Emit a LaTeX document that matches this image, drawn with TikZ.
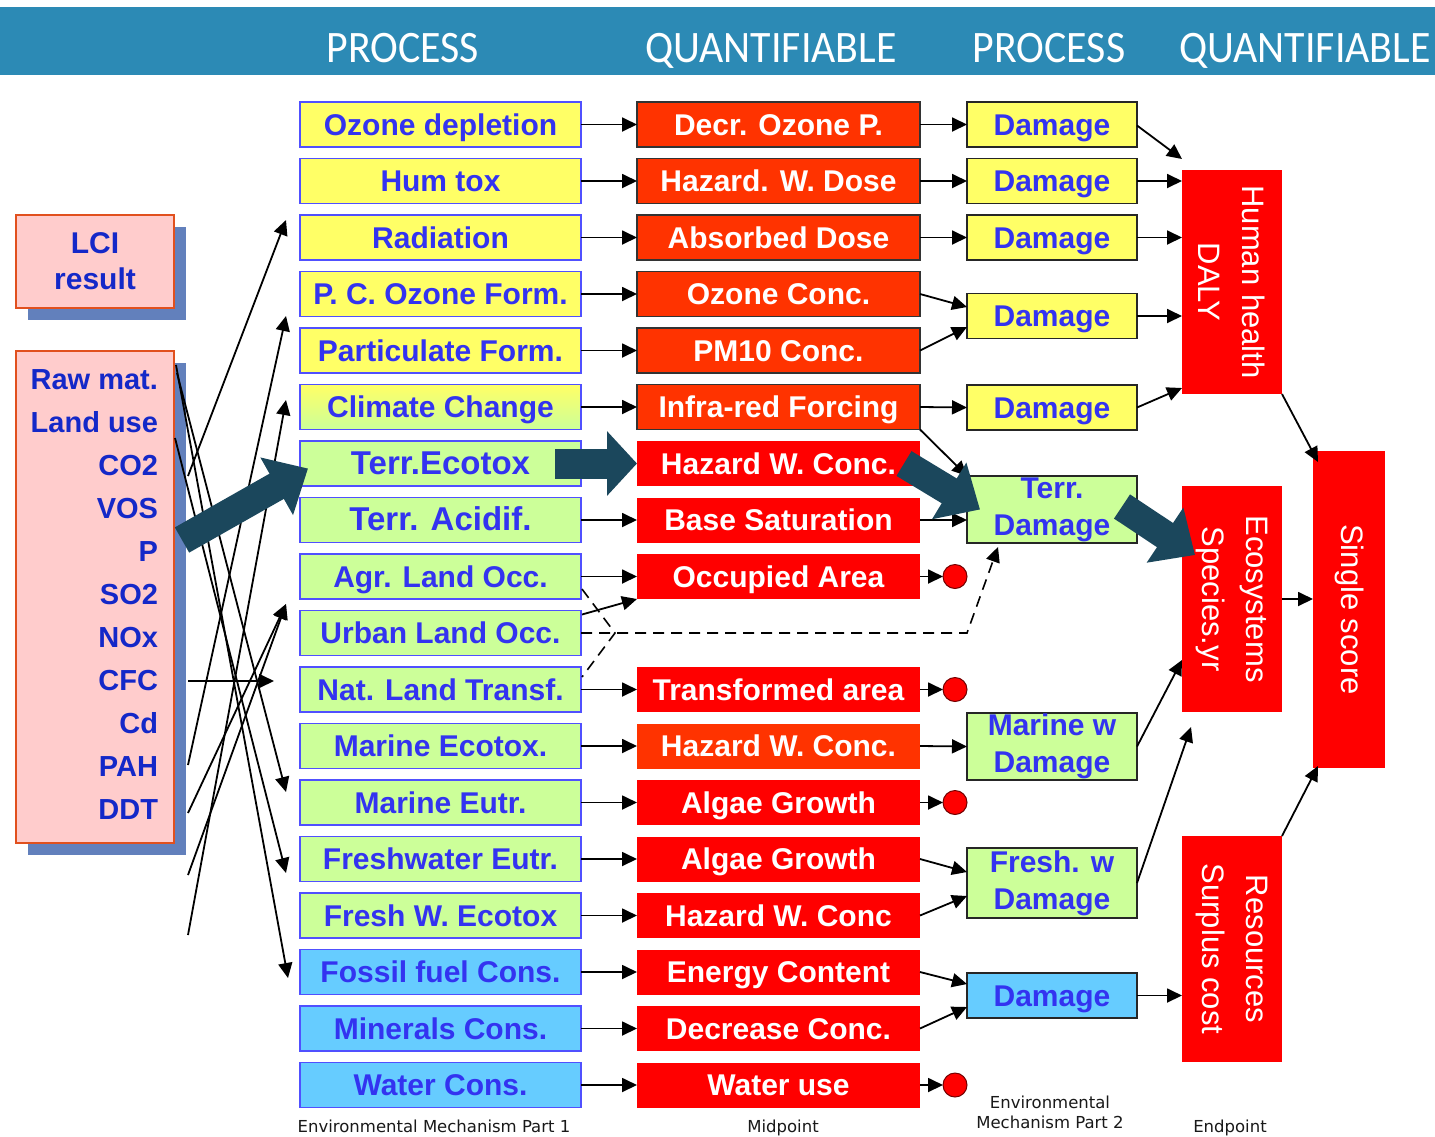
\documentclass[tikz,border=0pt]{standalone}
\usepackage{fontspec}
\setmainfont{Liberation Sans}
\newfontfamily\headfont{Carlito}
\newfontfamily\notefont{DejaVu Sans}
\usetikzlibrary{arrows.meta,calc,shadows}

\definecolor{band}{RGB}{44,138,181}
\definecolor{procyellow}{RGB}{255,255,102}
\definecolor{procgreen}{RGB}{204,255,153}
\definecolor{procblue}{RGB}{102,204,255}
\definecolor{procedge}{RGB}{80,80,255}
\definecolor{midorange}{RGB}{255,51,0}
\definecolor{midred}{RGB}{255,0,0}
\definecolor{txtblue}{RGB}{51,51,240}
\definecolor{lcitxt}{RGB}{20,40,200}
\definecolor{lcifill}{RGB}{255,204,204}
\definecolor{lciedge}{RGB}{225,80,30}
\definecolor{lcishadow}{RGB}{98,128,188}
\definecolor{bigarrowc}{RGB}{27,71,92}

\begin{document}
\begin{tikzpicture}[x=1pt,y=-1pt,
  every node/.style={inner sep=0pt,outer sep=0pt},
  bigfont/.style={font=\fontsize{30}{37}\selectfont\bfseries},
  oneline/.style={text height=21.5pt,text depth=0pt},
  proc/.style={bigfont,oneline,draw=procedge,line width=1.4pt,minimum width=281pt,minimum height=45pt,text=txtblue},
  pY/.style={fill=procyellow},
  pG/.style={fill=procgreen},
  pB/.style={fill=procblue},
  pYG/.style={top color=procyellow,bottom color=procgreen},
  mid/.style={bigfont,oneline,minimum width=283pt,minimum height=45pt,text=white},
  mO/.style={fill=midorange,draw=black!80,line width=1.4pt},
  mR/.style={fill=midred},
  mO2/.style={fill=midorange},
  dmg/.style={bigfont,draw=black!85,line width=1.4pt,minimum width=170pt,minimum height=45pt,text=txtblue,align=center},
  dot/.style={circle,fill=midred,draw=black!55!red,line width=1pt,minimum size=24pt},
  endbox/.style={fill=midred,minimum width=100pt},
  endtext/.style={rotate=-90,text=white,align=center,font=\fontsize{31}{44}\selectfont},
  lcibox/.style={fill=lcifill,draw=lciedge,line width=1.6pt,
    drop shadow={shadow xshift=12pt,shadow yshift=-12pt,fill=lcishadow,opacity=1}},
  tip/.style={-{Triangle[length=15pt,width=14pt]}},
  link/.style={line width=1.8pt,tip},
  bigarrow/.style={draw=bigarrowc,line width=29pt,-{Triangle[length=36pt,width=64pt]}},
  landdash/.style={line width=1.6pt,dash pattern=on 11pt off 7pt},
  note/.style={font=\notefont\fontsize{16.5}{20}\selectfont,text=black!90,align=center},
  head/.style={text=white,font=\headfont\fontsize{45}{45}\selectfont}
]
\useasboundingbox (0,0) rectangle (1435,1136);
\fill[white] (0,0) rectangle (1435,1136);

% header band
\fill[band] (0,7) rectangle (1435,75);
\node[head,anchor=base] (h1) at (403,62) {\scalebox{0.93}[1]{PROCESS}};
\node[head,anchor=base] (h2) at (771,62) {\scalebox{0.93}[1]{QUANTIFIABLE}};
\node[head,anchor=base] (h3) at (1049,62) {\scalebox{0.93}[1]{PROCESS}};
\node[head,anchor=base] (h4) at (1305,62) {\scalebox{0.93}[1]{QUANTIFIABLE}};

% inventory result
\node[lcibox,minimum width=158pt,minimum height=93pt,align=center,text=lcitxt,
  font=\fontsize{30}{36}\selectfont\bfseries] (lci) at (95,261.5) {LCI\\result};
\node[lcibox,minimum width=158pt,minimum height=492pt] (inv) at (95,597) {};
\node[anchor=north east,align=right,text=lcitxt,font=\fontsize{29}{43}\selectfont\bfseries]
  (invlist) at (158,370) {Raw mat.\\Land use\\CO2\\VOS\\P\\SO2\\NOx\\CFC\\Cd\\PAH\\DDT};

% environmental mechanism part 1
\node[proc,pY]  (p0)  at (440.5,124.5)  {Ozone depletion};
\node[proc,pY]  (p1)  at (440.5,181)    {Hum tox};
\node[proc,pY]  (p2)  at (440.5,237.5)  {Radiation};
\node[proc,pY]  (p3)  at (440.5,294)    {P. C. Ozone Form.};
\node[proc,pY]  (p4)  at (440.5,350.5)  {Particulate Form.};
\node[proc,pYG] (p5)  at (440.5,407)    {Climate Change};
\node[proc,pG,font=\fontsize{33}{37}\selectfont\bfseries] (p6) at (440.5,463.5) {Terr.Ecotox};
\node[proc,pG,font=\fontsize{33}{37}\selectfont\bfseries] (p7) at (440.5,520) {Terr. Acidif.};
\node[proc,pG]  (p8)  at (440.5,576.5)  {Agr. Land Occ.};
\node[proc,pG]  (p9)  at (440.5,633)    {Urban Land Occ.};
\node[proc,pG]  (p10) at (440.5,689.5)  {Nat. Land Transf.};
\node[proc,pG]  (p11) at (440.5,746)    {Marine Ecotox.};
\node[proc,pG]  (p12) at (440.5,802.5)  {Marine Eutr.};
\node[proc,pG]  (p13) at (440.5,859)    {Freshwater Eutr.};
\node[proc,pG]  (p14) at (440.5,915.5)  {Fresh W. Ecotox};
\node[proc,pB]  (p15) at (440.5,972)    {Fossil fuel Cons.};
\node[proc,pB]  (p16) at (440.5,1028.5) {Minerals Cons.};
\node[proc,pB]  (p17) at (440.5,1085)   {Water Cons.};

% midpoints
\node[mid,mO]  (m0)  at (778.5,124.5)  {Decr. Ozone P.};
\node[mid,mO]  (m1)  at (778.5,181)    {Hazard. W. Dose};
\node[mid,mO]  (m2)  at (778.5,237.5)  {Absorbed Dose};
\node[mid,mO]  (m3)  at (778.5,294)    {Ozone Conc.};
\node[mid,mO]  (m4)  at (778.5,350.5)  {PM10 Conc.};
\node[mid,mO]  (m5)  at (778.5,407)    {Infra-red Forcing};
\node[mid,mR]  (m6)  at (778.5,463.5)  {Hazard W. Conc.};
\node[mid,mR]  (m7)  at (778.5,520)    {Base Saturation};
\node[mid,mR]  (m8)  at (778.5,576.5)  {Occupied Area};
\node[mid,mR]  (m10) at (778.5,689.5)  {Transformed area};
\node[mid,mO2] (m11) at (778.5,746)    {Hazard W. Conc.};
\node[mid,mR]  (m12) at (778.5,802.5)  {Algae Growth};
\node[mid,mR]  (m13) at (778.5,859)    {Algae Growth};
\node[mid,mR]  (m14) at (778.5,915.5)  {Hazard W. Conc};
\node[mid,mR]  (m15) at (778.5,972)    {Energy Content};
\node[mid,mR]  (m16) at (778.5,1028.5) {Decrease Conc.};
\node[mid,mR]  (m17) at (778.5,1085)   {Water use};

% environmental mechanism part 2
\node[dmg,pY,oneline] (d0)  at (1052,124.5) {Damage};
\node[dmg,pY,oneline] (d1)  at (1052,181)   {Damage};
\node[dmg,pY,oneline] (d2)  at (1052,237.5) {Damage};
\node[dmg,pY,oneline] (d34) at (1052,316)   {Damage};
\node[dmg,pY,oneline] (d5)  at (1052,407.5) {Damage};
\node[dmg,pG,minimum height=67pt] (dterr)  at (1052,509.5) {Terr.\\Damage};
\node[dmg,pG,minimum height=67pt] (dmar)   at (1052,746.5) {Marine w\\Damage};
\node[dmg,pG,minimum height=70pt] (dfresh) at (1052,883)   {Fresh. w\\Damage};
\node[dmg,pB,oneline] (dres) at (1052,995.5) {Damage};

% dead ends
\node[dot] (o8)  at (955,576.5) {};
\node[dot] (o10) at (955,689.5) {};
\node[dot] (o12) at (955,802.5) {};
\node[dot] (o17) at (955,1085)  {};

% endpoints
\node[endbox,minimum height=224pt] (hh)  at (1232,282) {};
\node[endtext] (hhlab) at (hh) {Human health\\DALY};
\node[endbox,minimum height=226pt] (eco) at (1232,599) {};
\node[endtext] (ecolab) at (eco) {Ecosystems\\Species.yr};
\node[endbox,minimum height=226pt] (res) at (1232,949) {};
\node[endtext] (reslab) at (res) {Resources\\Surplus cost};
\node[endbox,minimum width=72pt,minimum height=317pt] (ss) at (1349,609.5) {};
\node[endtext] (sslab) at (ss) {Single score};

% inventory to mechanism links
\coordinate (sraw1) at (176,365);
\coordinate (sraw2) at (177,373);
\coordinate (sland) at (175,438);
\coordinate (sco2)  at (188,476);
\coordinate (scfc)  at (188,681);
\coordinate (spah)  at (188,765);
\coordinate (sddt)  at (188,813);
\coordinate (sx1)   at (188,875);
\coordinate (sx2)   at (188,935);
\coordinate (erad)  at (286,220);
\coordinate (epart) at (286,316);
\coordinate (eclim) at (286,400);
\coordinate (eurb)  at (286,604);
\coordinate (enat)  at (274,681);
\coordinate (emeu)  at (286,792);
\coordinate (efew)  at (286,873);
\coordinate (efos)  at (288,978);
\draw[link] (sraw1) -- (efos);
\draw[link] (sraw2) -- (emeu);
\draw[link] (sland) -- (efew);
\draw[link] (sco2) -- (erad);
\draw[link] (spah) -- (epart);
\draw[link] (sx2) -- (eclim);
\draw[link] (sddt) -- (eurb);
\draw[link] (sx1) -- (eurb);
\draw[link] (scfc) -- (enat);

% mechanism part 1 to midpoints
\foreach \i in {0,1,2,3,4,5,7,8,10,11,12,13,14,15,16,17}
  \draw[link] (p\i.east) -- (m\i.west);
\draw[link] ($(p9.north east)+(1,4)$) -- (m8.south west);

% land use (dashed)
\coordinate (landjoin) at (615,633);
\coordinate (landbend) at (967,633);
\draw[landdash] ($(p8.south east)+(1,-10)$) -- (landjoin) -- ($(p10.north east)+(1,10)$);
\draw[landdash,tip] (p9.east) -- (landbend) -- ($(dterr.south west)+(31,4)$);

% midpoints to mechanism part 2
\draw[link] (m0.east) -- (d0.west);
\draw[link] (m1.east) -- (d1.west);
\draw[link] (m2.east) -- (d2.west);
\draw[link] (m3.east) -- ($(d34.west)+(0,-9)$);
\draw[link] (m4.east) -- ($(d34.west)+(0,11)$);
\draw[link] (m5.east) -- (d5.west);
\draw[link] (m5.south east) -- (dterr.north west);
\draw[link] (m7.east) -- (m7.east -| dterr.west);
\draw[link] (m8.east) -- (o8.west);
\draw[link] (m10.east) -- (o10.west);
\draw[link] (m11.east) -- (dmar.west);
\draw[link] (m12.east) -- (o12.west);
\draw[link] (m13.east) -- ($(dfresh.west)+(0,-11)$);
\draw[link] (m14.east) -- ($(dfresh.west)+(0,13)$);
\draw[link] (m15.east) -- ($(dres.west)+(0,-11.5)$);
\draw[link] (m16.east) -- ($(dres.west)+(0,11.5)$);
\draw[link] (m17.east) -- (o17.west);

% mechanism part 2 to endpoints
\draw[link] ($(d0.east)+(0,1)$) -- ($(hh.north west)+(0,-11)$);
\draw[link] (d1.east) -- (d1.east -| hh.west);
\draw[link] (d2.east) -- (d2.east -| hh.west);
\draw[link] (d34.east) -- (d34.east -| hh.west);
\draw[link] (d5.east) -- ($(hh.south west)+(0,-6)$);
\draw[link] (dmar.east) -- ($(eco.south west)+(0,-52)$);
\draw[link] (dfresh.east) -- ($(eco.south west)+(9,15)$);
\draw[link] (dres.east) -- (dres.east -| res.west);
\draw[link] (hh.south east) -- ($(ss.north west)+(5,11)$);
\draw[link] (eco.east) -- (eco.east -| ss.west);
\draw[link] (res.north east) -- ($(ss.south west)+(5,-2)$);

% highlighted pathway
\coordinate (tstart) at (182,540);
\draw[bigarrow] (tstart) -- ($(p6.west)+(8,5)$);
\draw[bigarrow,line width=30pt,-{Triangle[length=30pt,width=63pt]}] ($(p6.east)+(-26,0)$) -- (m6.west);
\draw[bigarrow] ($(m6.east)+(-16,0)$) -- ($(dterr.west)+(13,0)$);
\draw[bigarrow] ($(dterr.east)+(-15,-3)$) -- ($(eco.north west)+(13,69)$);

% column captions
\node[note,anchor=base] (n1) at (434,1132) {Environmental Mechanism Part 1};
\node[note,anchor=base] (n2) at (783,1132) {Midpoint};
\node[note,anchor=north] (n3) at (1050,1096) {Environmental\\Mechanism Part 2};
\node[note,anchor=base] (n4) at (1230,1132) {Endpoint};
\end{tikzpicture}
\end{document}
